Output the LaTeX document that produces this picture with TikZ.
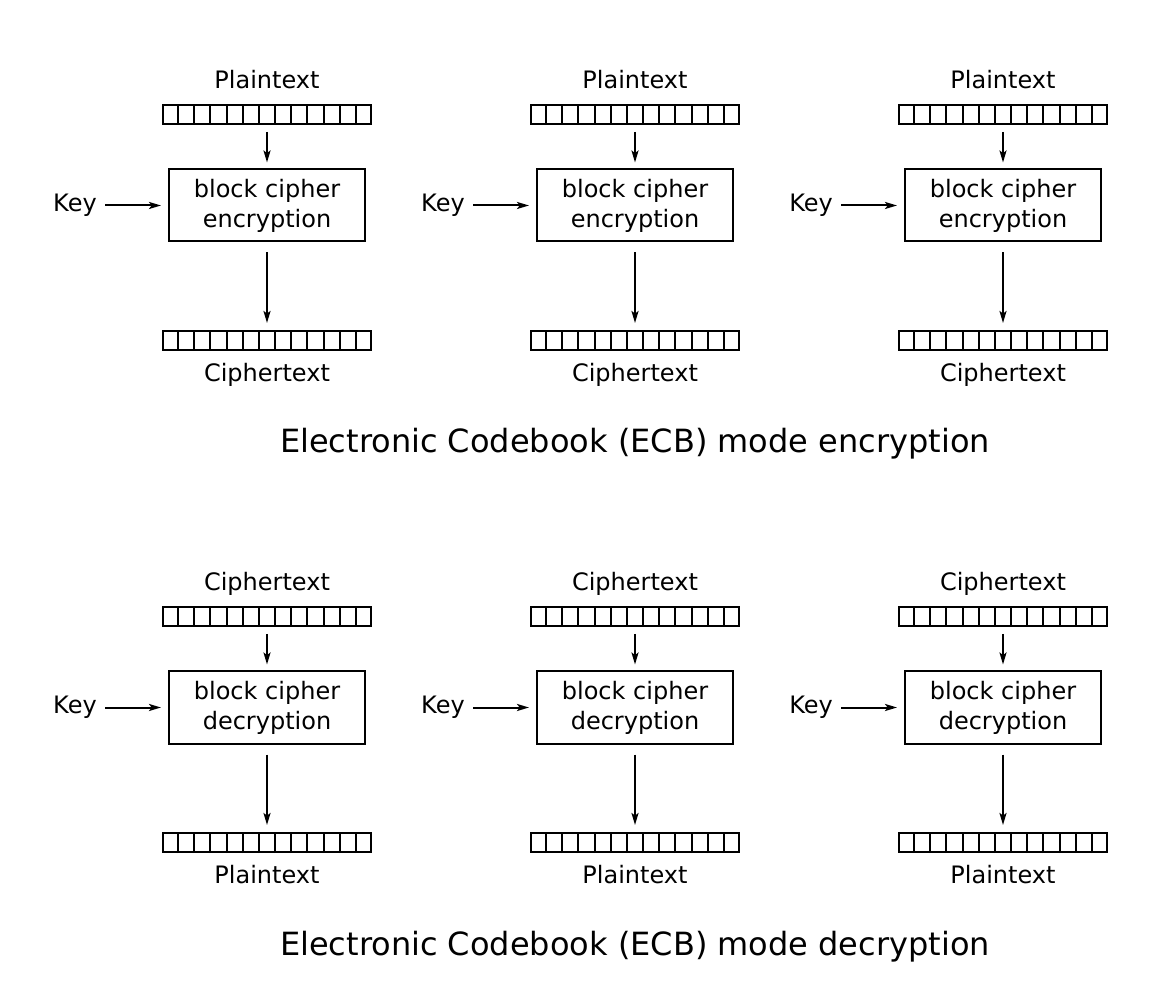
\documentclass[tikz,border=0pt]{standalone}
\usepackage{fontspec}
\setmainfont{DejaVu Sans}
\usetikzlibrary{arrows.meta,calc}
\tikzset{
  lbl/.style={inner sep=0pt, anchor=base, font=\fontsize{18pt}{22.5pt}\selectfont},
  ttl/.style={inner sep=0pt, anchor=base, font=\fontsize{24pt}{30pt}\selectfont},
  bitstrip/.style={draw, line width=1.5pt, minimum width=156pt, minimum height=14.25pt, inner sep=0pt},
  cipherbox/.style={draw, line width=1.5pt, minimum width=147pt, minimum height=54pt, inner sep=0pt, align=center, font=\fontsize{18pt}{22.5pt}\selectfont},
  arr/.style={line width=1.5pt, -{Stealth[length=9pt, width=5.25pt, inset=2pt]}},
  divline/.style={line width=1.5pt}
}
\newcommand{\stripdividers}[1]{%
  \foreach \k in {1,...,12}{
    \draw[divline] ($(#1.south west)!\k/13!(#1.south east)$) -- ($(#1.north west)!\k/13!(#1.north east)$);
  }}
\newcommand{\ecbunit}[6]{%
  \begin{scope}[shift={(#1,#2)}]
    \node[lbl] (#6top) at (267,89) {#3};
    \node[bitstrip] (#6s1) at (267,114.5) {};
    \stripdividers{#6s1}
    \node[cipherbox] (#6box) at (267,205.5) {block cipher\\#4};
    \node[bitstrip] (#6s2) at (267,340.5) {};
    \stripdividers{#6s2}
    \node[lbl] (#6bot) at (267,381.5) {#5};
    \node[lbl] (#6key) at (75,212) {Key};
    \draw[arr, shorten <=5.25pt, shorten >=4.5pt] (#6s1.south) -- (#6box.north);
    \draw[arr, shorten <=7.5pt, shorten >=5.25pt] (#6box.south) -- (#6s2.north);
    \draw[arr, shorten <=6pt, shorten >=5.25pt] (#6key.east |- #6box.west) -- (#6box.west);
  \end{scope}}
\begin{document}
\begin{tikzpicture}[x=0.75pt, y=-0.75pt]
  \useasboundingbox (0,0) rectangle (1168,994);
  \ecbunit{0}{0}{Plaintext}{encryption}{Ciphertext}{ea}
  \ecbunit{368}{0}{Plaintext}{encryption}{Ciphertext}{eb}
  \ecbunit{736}{0}{Plaintext}{encryption}{Ciphertext}{ec}
  \node[ttl] (enctitle) at (635,453) {Electronic Codebook (ECB) mode encryption};
  \ecbunit{0}{502}{Ciphertext}{decryption}{Plaintext}{da}
  \ecbunit{368}{502}{Ciphertext}{decryption}{Plaintext}{db}
  \ecbunit{736}{502}{Ciphertext}{decryption}{Plaintext}{dc}
  \node[ttl] (dectitle) at (635,955) {Electronic Codebook (ECB) mode decryption};
\end{tikzpicture}
\end{document}
